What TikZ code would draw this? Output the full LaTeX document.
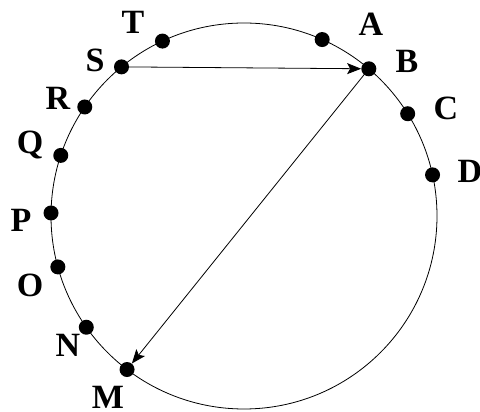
\documentclass[tikz,border=0pt]{standalone}
\usepackage{fontspec}
\setmainfont{Liberation Serif}
\usetikzlibrary{arrows.meta,calc}
\begin{document}
\begin{tikzpicture}[x=1pt,y=1pt,
  dot/.style={circle,fill=black,inner sep=0pt,minimum size=15pt},
  lbl/.style={font=\fontsize{34}{34}\selectfont\bfseries,inner sep=0pt,anchor=center},
  conn/.style={line width=0.8pt,-{Stealth[length=14pt,width=11pt,inset=3pt]}}]
\useasboundingbox (0,0) rectangle (480,412);
\coordinate (ctr) at (244,196);
\draw[line width=0.8pt] (ctr) circle[radius=193];
\foreach \n/\a in {T/115,S/129.4,R/145.6,Q/161.7,P/179.1,O/195.3,N/215.2,M/232.7,A/66.1,B/49.7,C/32,D/12.3}
  \node[dot] (\n) at ($(ctr)+(\a:193)$) {};
\node[lbl] (lT) at (133,390) {T};
\node[lbl] (lS) at (95,352) {S};
\node[lbl] (lR) at (58,314) {R};
\node[lbl] (lQ) at (30,267) {Q};
\node[lbl] (lP) at (21,192) {P};
\node[lbl] (lO) at (30,127) {O};
\node[lbl] (lN) at (68,67) {N};
\node[lbl] (lM) at (108,15) {M};
\node[lbl] (lA) at (371,388) {A};
\node[lbl] (lB) at (407,351) {B};
\node[lbl] (lC) at (446,304) {C};
\node[lbl] (lD) at (470,241) {D};
\draw[conn] (S.center) -- (B);
\draw[conn] (B.center) -- (M);
\end{tikzpicture}
\end{document}
